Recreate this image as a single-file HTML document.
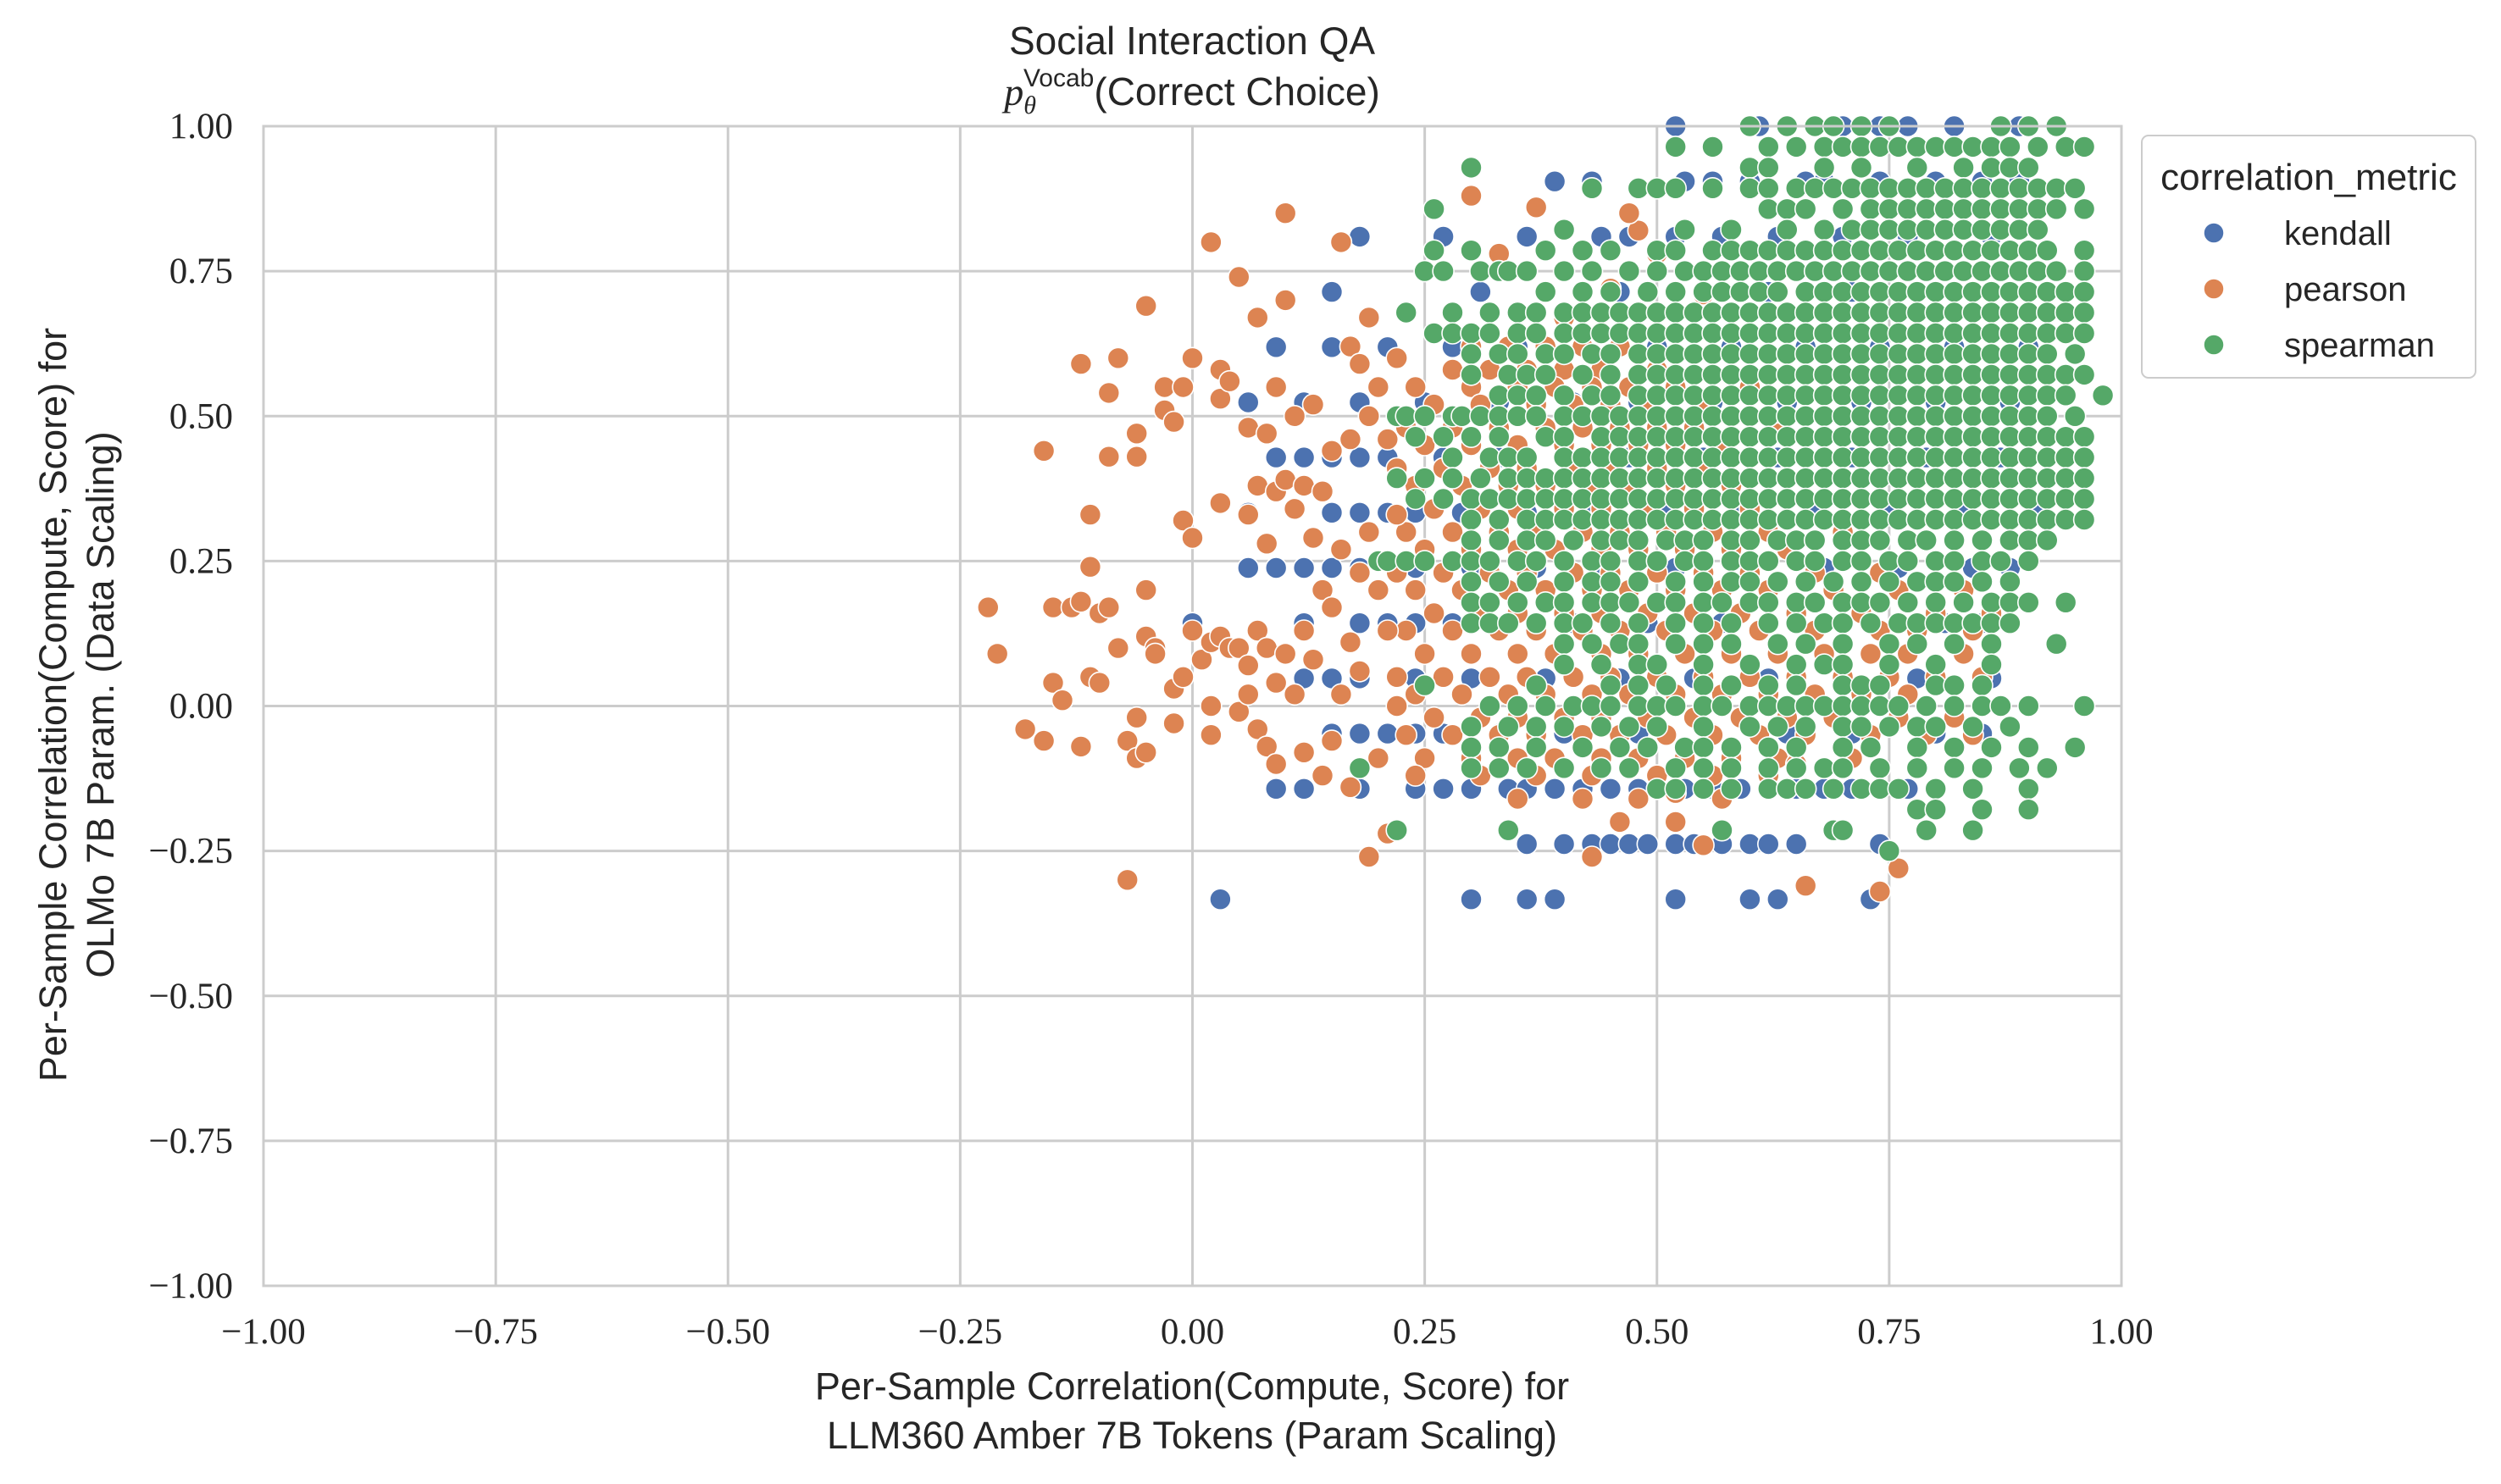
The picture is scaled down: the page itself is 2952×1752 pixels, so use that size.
<!DOCTYPE html>
<html><head><meta charset="utf-8"><style>
html,body{margin:0;padding:0;background:#fff;}
svg{display:block;}
</style></head><body>
<svg id="chart" width="2952" height="1752" viewBox="0 0 2952 1752" xmlns="http://www.w3.org/2000/svg">
<rect x="0" y="0" width="2952" height="1752" fill="#fff"/>
<g id="grid"></g>
<g id="marks"></g>
<rect x="311" y="149" width="2193" height="1369" fill="none" stroke="#cccccc" stroke-width="3"/>
<g id="ticks"></g>
<text x="1407" y="64" text-anchor="middle" font-family="Liberation Sans, sans-serif" font-size="46" fill="#262626">Social Interaction QA</text>
<text x="1407" y="124" text-anchor="middle" font-family="Liberation Sans, sans-serif" font-size="46" fill="#262626"><tspan font-family="Liberation Serif, serif" font-style="italic">p</tspan><tspan font-family="Liberation Serif, serif" font-style="italic" font-size="30" dy="10">θ</tspan><tspan font-size="30" dy="-32" dx="-15">Vocab</tspan><tspan dy="22">(Correct Choice)</tspan></text>
<text x="1407" y="1652" text-anchor="middle" font-family="Liberation Sans, sans-serif" font-size="45" fill="#262626">Per-Sample Correlation(Compute, Score) for</text>
<text x="1407" y="1710" text-anchor="middle" font-family="Liberation Sans, sans-serif" font-size="45" fill="#262626">LLM360 Amber 7B Tokens (Param Scaling)</text>
<g transform="translate(78,832) rotate(-90)">
<text x="0" y="0" text-anchor="middle" font-family="Liberation Sans, sans-serif" font-size="45" fill="#262626">Per-Sample Correlation(Compute, Score) for</text>
<text x="0" y="56" text-anchor="middle" font-family="Liberation Sans, sans-serif" font-size="45" fill="#262626">OLMo 7B Param. (Data Scaling)</text>
</g>
<g>
<rect x="2528" y="160" width="394" height="286" rx="8" fill="#fff" stroke="#cccccc" stroke-width="2"/>
<text x="2725" y="224" text-anchor="middle" font-family="Liberation Sans, sans-serif" font-size="44" fill="#262626">correlation_metric</text>
<g><circle cx="2613" cy="275" r="12" fill="#4c72b0" stroke="#fff" stroke-width="1.5"/><text x="2696" y="289" font-family="Liberation Sans, sans-serif" font-size="40" fill="#262626">kendall</text></g>
<g><circle cx="2613" cy="341" r="12" fill="#dd8452" stroke="#fff" stroke-width="1.5"/><text x="2696" y="355" font-family="Liberation Sans, sans-serif" font-size="40" fill="#262626">pearson</text></g>
<g><circle cx="2613" cy="407" r="12" fill="#55a868" stroke="#fff" stroke-width="1.5"/><text x="2696" y="421" font-family="Liberation Sans, sans-serif" font-size="40" fill="#262626">spearman</text></g>
</g>
</svg>
<script>
const tickValues = [-1, -0.75, -0.5, -0.25, 0, 0.25, 0.5, 0.75, 1];
const tickLabels = ["\u22121.00","\u22120.75","\u22120.50","\u22120.25","0.00","0.25","0.50","0.75","1.00"];
// kendall: y = num/21, x in hundredths
const kendallLevels = [21,19,17,15,13,11,9,7,5,3,1,-1,-3,-5,-7];
const kendallRows = [
"52 61 70 72 74 77 82 89",
"39 43 53 56 60 66 68 74 80 85 89",
"18 27 36 44 47 52 57 63 70 77 86",
"15 31 38 46 55 62 71 80 88",
"9 15 21 28 35 42 50 58 66 74 82 90",
"6 12 18 25 33 41 48 56 64 72 80 88",
"9 12 15 18 21 27 33 40 47 55 63 71 79 87",
"6 15 18 21 24 29 36 43 51 59 67 75 83 91",
"6 9 12 15 18 24 30 37 44 52 60 68 76 84 88",
"0 12 18 21 24 28 34 41 49 57 65 73 81 85",
"12 15 18 24 30 38 46 54 62 70 78 86",
"15 18 21 24 27 33 40 48 56 64 71 80 85",
"9 12 18 24 27 30 34 36 39 42 45 48 50 53 56 59 62 65 68 71 74 77 80",
"36 40 43 45 47 49 52 54 57 60 62 65 74",
"3 30 36 39 52 60 63 73"
];
// pearson dense rows: y in hundredths, x in hundredths
const pearsonRowY = [62,58,55,52,48,45,41,38,34,30,27,23,20,16,13,9,5,2,-2,-5,-9,-12,-16,-20];
const pearsonRows = [
"30 34 38 42 46",
"28 32 36 40 44 50",
"24 30 35 39 43 47 52",
"26 31 37 41 45 49 55",
"23 28 33 38 42 46 50 54",
"25 30 35 40 44 48 52 57",
"22 27 32 36 41 45 50 55",
"24 29 34 38 43 47 52 58",
"26 31 35 40 44 49 54 60",
"23 28 33 37 42 46 51 56 62 70",
"25 30 35 39 44 48 53 58 64",
"22 27 32 36 41 45 50 55 60 67 74",
"24 29 34 38 43 47 52 57 62 69 76 83",
"26 31 35 40 44 49 54 59 65 72 80 86",
"23 28 33 37 42 46 51 56 61 67 74 78 84",
"25 30 35 39 44 48 53 58 63 68 73 77 83",
"22 27 32 36 41 45 50 55 60 65 70 75 80 85",
"24 29 34 38 43 47 52 57 62 67 72 77",
"26 31 35 40 44 49 54 59 64 69 76 82",
"23 28 33 37 42 46 51 56 61 66 73 79 84",
"25 30 35 39 44 48 53 58 63 71",
"24 31 37 43 50 56 62",
"35 42 48 57",
"46 52"
];
const pearsonX = [-0.22,-0.21,-0.18,-0.16,-0.16,-0.15,-0.15,-0.14,-0.13,-0.12,-0.12,-0.12,-0.11,-0.11,-0.11,-0.10,-0.10,-0.09,-0.09,-0.09,-0.08,-0.08,-0.07,-0.07,-0.06,-0.06,-0.06,-0.06,-0.05,-0.05,-0.05,-0.05,-0.04,-0.04,-0.03,-0.03,-0.02,-0.02,-0.02,-0.01,-0.01,-0.01,0.0,0.0,0.0,0.01,0.02,0.02,0.02,0.02,0.03,0.03,0.03,0.03,0.04,0.04,0.05,0.05,0.05,0.06,0.06,0.06,0.06,0.07,0.07,0.07,0.07,0.08,0.08,0.08,0.08,0.09,0.09,0.09,0.09,0.10,0.10,0.10,0.10,0.11,0.11,0.11,0.12,0.12,0.12,0.13,0.13,0.13,0.14,0.14,0.14,0.15,0.15,0.15,0.16,0.16,0.16,0.17,0.17,0.17,0.17,0.18,0.18,0.18,0.19,0.19,0.19,0.19,0.20,0.20,0.20,0.21,0.21,0.21,0.22,0.22,0.22,0.43,0.33,0.37,0.30,0.40,0.45,0.48,0.50,0.55,0.47,0.60,0.63,0.70,0.55,0.66,0.74,0.76,0.65,0.52];
const pearsonY = [0.17,0.09,-0.04,-0.06,0.44,0.17,0.04,0.01,0.17,0.18,-0.07,0.59,0.24,0.33,0.05,0.04,0.16,0.17,0.43,0.54,0.60,0.10,-0.30,-0.06,0.47,0.43,-0.02,-0.09,0.69,0.20,0.12,-0.08,0.10,0.09,0.51,0.55,0.49,0.03,-0.03,0.32,0.55,0.05,0.60,0.29,0.13,0.08,0.80,0.11,0.0,-0.05,0.58,0.53,0.35,0.12,0.56,0.10,0.74,0.10,-0.01,0.48,0.33,0.07,0.02,0.67,0.38,0.13,-0.04,0.47,0.28,0.10,-0.07,0.55,0.37,0.04,-0.10,0.85,0.70,0.39,0.09,0.34,0.50,0.02,0.38,0.13,-0.08,0.52,0.29,0.08,0.37,0.20,-0.12,0.44,0.17,-0.06,0.80,0.27,0.02,0.62,0.46,0.11,-0.14,0.59,0.23,0.06,0.67,0.50,0.30,-0.26,0.55,0.20,-0.09,0.46,0.13,-0.22,0.60,0.33,0.0,-0.26,0.78,0.86,0.88,0.67,0.72,0.82,0.78,0.71,0.85,0.55,0.47,0.50,-0.24,-0.31,-0.32,-0.28,-0.10,-0.15];
// spearman: y = level/28
const spearmanLevels = [28,27,26,25,24,23,22,21,20,19,18,17,16,15,14,13,12,11,10,9,8,7,6,5,4,3,2,1,0,-1,-2,-3,-4,-5,-6,-7];
const spearmanRows = [
"60 64 67 69 72 75 87 90 93",
"52 56 62 65 68 70 72 74 76 78 80 82 84 86 88 91 94 96",
"30 60 62 68 72 78 83 86 88 90",
"43 48 50 52 56 60 62 65 67 69 71 73 75 77 79 81 83 85 87 89 91 93 95",
"26 62 64 66 70 73 75 77 79 81 83 85 87 89 91 93 96",
"40 53 58 64 68 71 73 75 77 79 81 83 85 87 89 91",
"26 30 38 42 45 50 52 56 58 60 62 64 66 68 70 72 74 76 78 80 82 84 86 88 90 92 96",
"25 27 31 33 34 36 40 43 47 50 53 55 57 59 61 63 65 67 69 71 73 75 77 79 81 83 85 87 89 91 93 96",
"38 42 45 49 52 55 57 59 61 63 66 68 70 72 74 76 78 80 82 84 86 88 90 92 94 96",
"23 28 32 35 37 40 42 44 46 48 50 52 54 56 58 60 62 64 66 68 70 72 74 76 78 80 82 84 86 88 90 92 94 96",
"26 28 30 32 35 37 40 42 44 46 48 50 52 54 56 58 60 62 64 66 68 70 72 74 76 78 80 82 84 86 88 90 92 94 96",
"30 33 35 38 40 43 45 48 50 52 54 56 58 60 62 64 66 68 70 72 74 76 78 80 82 84 86 88 90 92 95",
"30 34 36 38 42 45 48 50 52 54 56 58 60 62 64 66 68 70 72 74 76 78 80 82 84 86 88 90 92 94 96",
"33 35 37 40 43 45 48 50 52 54 56 58 60 62 64 66 68 70 72 74 76 78 80 82 84 86 88 90 92 94 98",
"22 23 25 28 29 31 33 35 37 40 42 44 46 48 50 52 54 56 58 60 62 64 66 68 70 72 74 76 78 80 82 84 86 88 90 92 95",
"24 27 30 33 38 40 44 46 48 50 52 54 56 58 60 62 64 66 68 70 72 74 76 78 80 82 84 86 88 90 92 94 96",
"28 32 34 36 40 42 44 46 48 50 52 54 56 58 60 62 64 66 68 70 72 74 76 78 80 82 84 86 88 90 92 94 96",
"22 25 28 31 34 36 38 40 42 44 46 48 50 52 54 56 58 60 62 64 66 68 70 72 74 76 78 80 82 84 86 88 90 92 94 96",
"24 27 30 32 34 36 38 40 42 44 46 48 50 52 54 56 58 60 62 64 66 68 70 72 74 76 78 80 82 84 86 88 90 92 94 96",
"30 33 36 38 40 42 44 46 48 50 52 54 56 58 60 62 64 66 68 70 72 74 76 78 80 82 84 86 88 90 92 94 96",
"30 33 36 38 41 44 46 48 51 53 55 58 60 63 65 67 70 72 74 77 79 82 85 88 90 92",
"20 21 23 25 28 30 32 35 37 40 43 45 48 50 53 55 58 60 62 65 67 70 72 75 77 80 82 85 87 90",
"30 33 36 40 43 45 48 52 55 58 60 63 66 69 72 75 78 80 82 85 88",
"30 32 35 38 40 43 45 47 50 52 55 57 60 62 65 67 70 72 74 77 80 83 86 88 90 94",
"30 32 34 37 40 42 45 48 52 55 58 62 65 68 70 73 76 78 80 82 84 86 88",
"40 43 46 48 52 55 58 63 66 70 75 78 82 86 93",
"40 44 48 50 55 60 65 68 70 75 80 86",
"25 37 45 48 51 55 58 62 65 70 72 74 80 82 85",
"32 35 38 41 43 45 48 50 52 55 57 60 62 64 66 68 70 72 74 76 79 82 85 87 90 96",
"30 34 37 40 44 47 50 55 60 63 66 70 72 75 78 80 84 88",
"30 33 37 42 46 49 53 55 58 62 65 70 73 78 82 86 90 95",
"18 30 33 36 40 44 47 52 55 58 62 65 68 70 74 78 82 85 89 92",
"50 52 55 58 62 64 66 69 72 74 76 80 84 90",
"78 80 85 90",
"22 34 57 69 70 79 84",
"75"
];

const NS = "http://www.w3.org/2000/svg";
const PX0 = 311, PW = 2193, PY0 = 149, PH = 1369;
function xScale(v){ return PX0 + (v + 1) / 2 * PW; }
function yScale(v){ return PY0 + (1 - v) / 2 * PH; }
function parseRow(s){ return s.trim().split(/\s+/).map(t => Number(t) / 100); }

const grid = document.getElementById('grid');
const ticks = document.getElementById('ticks');
tickValues.forEach((t, i) => {
  const vx = document.createElementNS(NS, 'line');
  vx.setAttribute('x1', xScale(t)); vx.setAttribute('x2', xScale(t));
  vx.setAttribute('y1', PY0); vx.setAttribute('y2', PY0 + PH);
  vx.setAttribute('stroke', '#cccccc'); vx.setAttribute('stroke-width', '3');
  
  
  grid.appendChild(vx);
  const hy = document.createElementNS(NS, 'line');
  hy.setAttribute('x1', PX0); hy.setAttribute('x2', PX0 + PW);
  hy.setAttribute('y1', yScale(t)); hy.setAttribute('y2', yScale(t));
  hy.setAttribute('stroke', '#cccccc'); hy.setAttribute('stroke-width', '3');
  
  
  grid.appendChild(hy);
  const tx = document.createElementNS(NS, 'text');
  tx.setAttribute('x', xScale(t)); tx.setAttribute('y', 1586);
  tx.setAttribute('text-anchor', 'middle');
  tx.setAttribute('font-family', 'Liberation Serif, serif');
  tx.setAttribute('font-size', '43'); tx.setAttribute('fill', '#262626');
  tx.textContent = tickLabels[i];
  
  
  ticks.appendChild(tx);
  const ty = document.createElementNS(NS, 'text');
  ty.setAttribute('x', 275); ty.setAttribute('y', yScale(t) + 14);
  ty.setAttribute('text-anchor', 'end');
  ty.setAttribute('font-family', 'Liberation Serif, serif');
  ty.setAttribute('font-size', '43'); ty.setAttribute('fill', '#262626');
  ty.textContent = tickLabels[i];
  
  
  ticks.appendChild(ty);
});

const marks = document.getElementById('marks');
function dot(x, y, color, name){
  const c = document.createElementNS(NS, 'circle');
  c.setAttribute('cx', xScale(x).toFixed(1));
  c.setAttribute('cy', yScale(y).toFixed(1));
  c.setAttribute('r', '12.5');
  c.setAttribute('fill', color);
  c.setAttribute('stroke', '#ffffff');
  c.setAttribute('stroke-width', '1.6');
  
  
  marks.appendChild(c);
}
kendallRows.forEach((row, i) => {
  const y = kendallLevels[i] / 21;
  parseRow(row).forEach(x => dot(x, y, '#4c72b0', 'kendall-point'));
});
pearsonRows.forEach((row, i) => {
  const y = pearsonRowY[i] / 100;
  parseRow(row).forEach(x => dot(x, y, '#dd8452', 'pearson-point'));
});
pearsonX.forEach((x, i) => dot(x, pearsonY[i], '#dd8452', 'pearson-point'));
spearmanRows.forEach((row, i) => {
  const y = spearmanLevels[i] / 28;
  parseRow(row).forEach(x => dot(x, y, '#55a868', 'spearman-point'));
});
</script>
</body></html>
